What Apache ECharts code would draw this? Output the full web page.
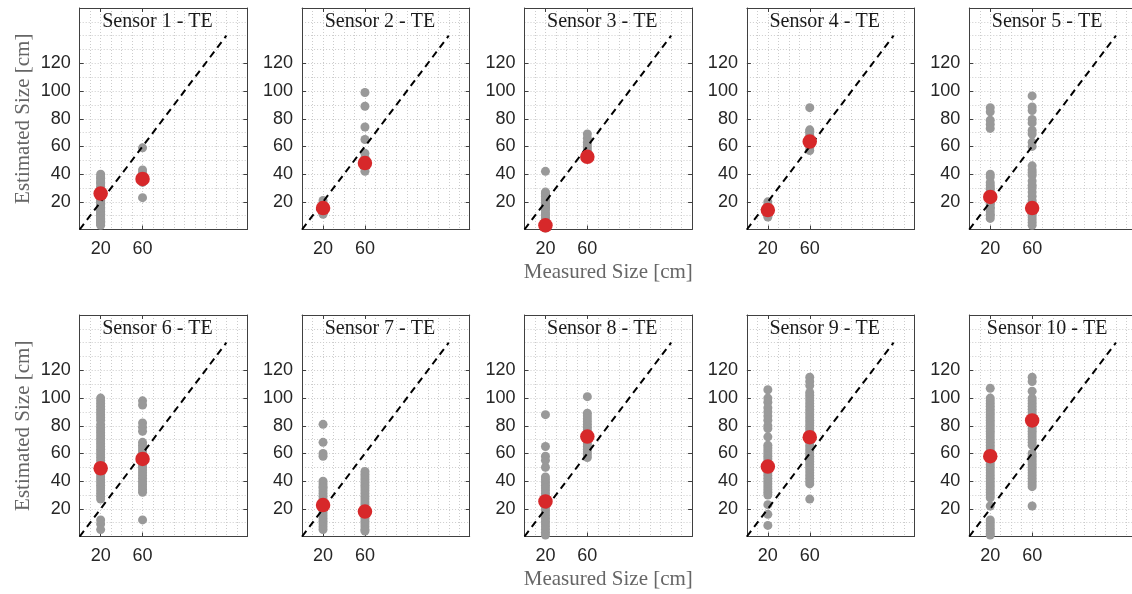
<!DOCTYPE html>
<html><head><meta charset="utf-8">
<script src="https://cdn.jsdelivr.net/npm/echarts@6/dist/echarts.min.js"></script>
<style>html,body{margin:0;padding:0;background:#fff}#c{width:1132px;height:594px}</style>
</head><body><div id="c"></div>
<script>
// ---------- data ----------
const measuredSizes = [20, 60];
const xTickLabels = [20, 60];
const yTickLabels = [20, 40, 60, 80, 100, 120];
const identityLine = [0, 140];
const sensorTitles = ['Sensor 1 - TE','Sensor 2 - TE','Sensor 3 - TE','Sensor 4 - TE','Sensor 5 - TE',
                      'Sensor 6 - TE','Sensor 7 - TE','Sensor 8 - TE','Sensor 9 - TE','Sensor 10 - TE'];

const s1At20 = [40,38,37,35,34,33,31,30,29,28,26,25,24,22,21,20,19,18,16,15,14,13,12,11,10,9,8,7,6,5,4,3];
const s1At60 = [59,43,41,39,37,35,34,23];
const s2At20 = [21,19,17,15,13,12,11];
const s2At60 = [99,89,74,65,55,52,50,46,44,42];
const s3At20 = [42,27,26,25,24,22,21,19,18,17,16,15,14,12,11,9,8,6,5,3,2,1];
const s3At60 = [69,66,63,61,59,57,55,53];
const s4At20 = [20,18,17,15,14,12,11,10,9];
const s4At60 = [88,72,71,70,68,66,63,61,59,57];
const s5At20 = [88,85,79,76,73,40,38,34,32,30,29,27,25,24,22,21,19,18,16,15,13,11,10,8];
const s5At60 = [96.5,88.5,86,79.5,77,71.5,69,63,60,46,43,41,39,35,32,30,27,24,21,19,17,15,13,11,9,7,5,3];
const s6At20 = [100,98,96,94,92,90,88,86,84,81,79,77,75,73,71,69,67,65,63,61,59,57,55,53,51,49,47,45,43,41,39,37,35,33,31,29,27,12,9,5];
const s6At60 = [98,95,82,79,76,68,66,64,62,60,58,56,54,52,50,48,46,44,42,40,38,36,34,32,12];
const s7At20 = [81,68,60,58,40,38,36,35,33,31,29,27,25,23,21,19,17,15,13,11,9,7,5];
const s7At60 = [47,45,43,41,39,37,35,33,31,29,27,25,23,21,19,17,15,13,11,9,7,5,4];
const s8At20 = [88,65,58,55,50,43,41,39,37,35,33,31,29,27,25,23,21,19,17,15,13,11,9,7,5,3,1];
const s8At60 = [101,89,87,85,83,81,79,77,75,73,71,69,67,65,63,61,59,57];
const s9At20 = [106,100,97,93,90,87,84,80,78,72,66,64,62,60,58,56,54,52,50,48,46,44,42,40,38,36,34,32,30,23,16,8];
const s9At60 = [115,112,109,104,102,100,98,96,94,92,90,88,86,84,82,80,78,76,74,72,70,68,66,64,62,60,58,56,54,52,50,48,46,44,42,40,38,27];
const s10At20 = [107,100,98,96,94,92,90,88,86,84,82,80,78,76,74,72,70,68,66,64,62,60,58,56,54,52,50,48,46,44,42,40,38,36,34,32,30,28,22,12,10,8,6,4,2,1];
const s10At60 = [115,112,105,100,98,96,94,92,90,88,86,84,82,80,78,76,74,72,70,68,66,60,58,56,54,52,50,48,46,44,42,40,38,36,22];

const meanAt20 = [26, 15.5, 3, 14, 23.5, 49.3, 22.7, 25.3, 50.5, 58];
const meanAt60 = [36.5, 48, 52.5, 63.5, 15.5, 56, 18, 72.2, 71.7, 83.8];

const estAt20 = [s1At20,s2At20,s3At20,s4At20,s5At20,s6At20,s7At20,s8At20,s9At20,s10At20];
const estAt60 = [s1At60,s2At60,s3At60,s4At60,s5At60,s6At60,s7At60,s8At60,s9At60,s10At60];

// ---------- layout / style ----------
const colLeft0 = 79.7, colStep = 222.4, gridW = 167.6, gridH = 221.5;
const rowTops = [8, 315];
const axisColor = '#404040';
const gridLineStyle = {color: '#cccccc', type: [1, 2], width: 1};
const tickFont = {fontFamily: 'Liberation Sans', fontSize: 18, color: '#262626'};
const serifName = {fontFamily: 'Liberation Serif', fontSize: 21, color: '#666666'};

const grids = [], xAxes = [], yAxes = [], series = [], titles = [];
for (let i = 0; i < 10; i++) {
  const row = Math.floor(i / 5), col = i % 5;
  const left = colLeft0 + col * colStep, top = rowTops[row];
  grids.push({left: left, top: top, width: gridW, height: gridH, containLabel: false, outerBoundsMode: 'none'});
  titles.push({text: sensorTitles[i], left: left + gridW / 2 - 6, top: top + 4, textAlign: 'center', padding: 0,
    textStyle: {fontFamily: 'Liberation Serif', fontSize: 20, fontWeight: 'normal', color: '#1a1a1a'}});
  // x: visible bottom axis (ticks + labels)
  xAxes.push({type: 'value', gridIndex: i, position: 'bottom', min: 0, max: 160,
    axisLine: {show: true, onZero: false, lineStyle: {color: axisColor, width: 1}},
    axisTick: {show: true, inside: true, length: 4, customValues: xTickLabels, lineStyle: {color: axisColor}},
    axisLabel: Object.assign({customValues: xTickLabels, margin: 11}, tickFont),
    splitLine: {show: false},
    name: (col === 2) ? 'Measured Size [cm]' : '', nameLocation: 'middle', nameGap: 32,
    nameTextStyle: serifName});
  // x: grid-line axis
  xAxes.push({type: 'value', gridIndex: i, position: 'bottom', min: 0, max: 160, interval: 10,
    axisLine: {show: false}, axisTick: {show: false}, axisLabel: {show: false},
    splitLine: {show: true, lineStyle: gridLineStyle}});
  // x: top border
  xAxes.push({type: 'value', gridIndex: i, position: 'top', min: 0, max: 160,
    axisLine: {show: true, onZero: false, lineStyle: {color: axisColor, width: 1}},
    axisTick: {show: true, inside: true, length: 4, customValues: xTickLabels, lineStyle: {color: axisColor}},
    axisLabel: {show: false}, splitLine: {show: false}});
  // y: visible left axis
  yAxes.push({type: 'value', gridIndex: i, position: 'left', min: 0, max: 160,
    axisLine: {show: true, onZero: false, lineStyle: {color: axisColor, width: 1}},
    axisTick: {show: true, inside: true, length: 4, customValues: yTickLabels, lineStyle: {color: axisColor}},
    axisLabel: Object.assign({customValues: yTickLabels, margin: 9}, tickFont),
    splitLine: {show: false},
    name: (col === 0) ? 'Estimated Size [cm]' : '', nameLocation: 'middle', nameGap: 46,
    nameTextStyle: serifName});
  // y: grid-line axis
  yAxes.push({type: 'value', gridIndex: i, position: 'left', min: 0, max: 160, interval: 10,
    axisLine: {show: false}, axisTick: {show: false}, axisLabel: {show: false},
    splitLine: {show: true, lineStyle: gridLineStyle}});
  // y: right border
  yAxes.push({type: 'value', gridIndex: i, position: 'right', min: 0, max: 160,
    axisLine: {show: true, onZero: false, lineStyle: {color: axisColor, width: 1}},
    axisTick: {show: true, inside: true, length: 4, customValues: yTickLabels, lineStyle: {color: axisColor}},
    axisLabel: {show: false}, splitLine: {show: false}});

  const ax = 3 * i;
  const grayData = estAt20[i].map(v => [measuredSizes[0], v]).concat(estAt60[i].map(v => [measuredSizes[1], v]));
  series.push({type: 'scatter', xAxisIndex: ax, yAxisIndex: ax, data: grayData, symbolSize: 9,
    itemStyle: {color: '#999999', opacity: 1}, silent: true, z: 2});
  series.push({type: 'line', xAxisIndex: ax, yAxisIndex: ax,
    data: [[identityLine[0], identityLine[0]], [identityLine[1], identityLine[1]]],
    symbol: 'none', lineStyle: {color: '#000', width: 2, type: [7, 5]}, silent: true, z: 3});
  series.push({type: 'scatter', xAxisIndex: ax, yAxisIndex: ax,
    data: [[measuredSizes[0], meanAt20[i]], [measuredSizes[1], meanAt60[i]]], symbolSize: 14.5,
    itemStyle: {color: '#d7282a', opacity: 1}, silent: true, z: 4});
}

const chart = echarts.init(document.getElementById('c'), null, {renderer: 'canvas'});
chart.setOption({animation: false, backgroundColor: '#fff', title: titles, grid: grids,
  xAxis: xAxes, yAxis: yAxes, series: series});
</script></body></html>
